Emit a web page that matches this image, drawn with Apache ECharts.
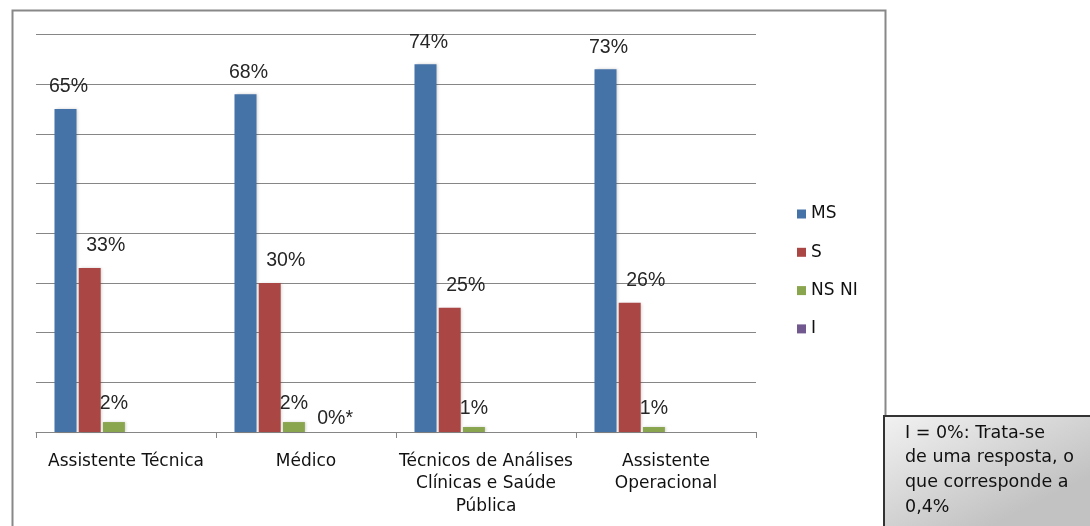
<!DOCTYPE html>
<html>
<head>
<meta charset="utf-8">
<script src="https://cdn.jsdelivr.net/npm/echarts@6/dist/echarts.min.js"></script>
<style>
html,body{margin:0;padding:0;background:#fff;}
#chart{width:1090px;height:526px;}
</style>
</head>
<body>
<div id="chart"></div>
<script>
// ---- data ----
const categories = ['Assistente Técnica', 'Médico', 'Técnicos de Análises\nClínicas e Saúde\nPública', 'Assistente\nOperacional'];
const seriesNames = ['MS', 'S', 'NS NI', 'I'];
const msValues = [0.65, 0.68, 0.74, 0.73];
const sValues = [0.33, 0.30, 0.25, 0.26];
const nsniValues = [0.02, 0.02, 0.01, 0.01];
const iValues = [0, 0, 0, 0];
const iLabels = ['', '0%*', '', ''];
const yTicks = [0, 0.1, 0.2, 0.3, 0.4, 0.5, 0.6, 0.7, 0.8];
const noteLines = ['I = 0%: Trata-se', 'de uma resposta, o', 'que corresponde a', '0,4%'];

const colors = ['#4572A7', '#AA4643', '#89A54E', '#71588F'];
const labelFont = { fontFamily: '"Liberation Sans", Arial, sans-serif', fontSize: 19.5, color: '#262626' };
const pct = p => Math.round(p.value * 100) + '%';

const barBase = {
  type: 'bar', barWidth: 22, barGap: '10%',
  itemStyle: { shadowColor: 'rgba(0,0,0,0.18)', shadowBlur: 3, shadowOffsetX: 1, shadowOffsetY: 0 }
};

const chart = echarts.init(document.getElementById('chart'));
chart.setOption({
  animation: false,
  color: colors,
  grid: { left: 36, right: 334, top: 34.5, bottom: 94, containLabel: false },
  legend: {
    data: seriesNames, orient: 'vertical', left: 792, top: 199,
    itemWidth: 9, itemHeight: 9, itemGap: 18.3, icon: 'rect',
    textStyle: { fontFamily: '"DejaVu Sans", sans-serif', fontSize: 17, color: '#111', lineHeight: 20 }
  },
  xAxis: {
    type: 'category', data: categories,
    axisLine: { lineStyle: { color: '#868686', width: 1 } },
    axisTick: { show: true, length: 6, lineStyle: { color: '#868686' } },
    axisLabel: { fontFamily: '"DejaVu Sans", sans-serif', fontSize: 17, color: '#111', lineHeight: 22.5, margin: 18, interval: 0 }
  },
  yAxis: {
    type: 'value', min: yTicks[0], max: yTicks[yTicks.length - 1], interval: 0.1,
    axisLabel: { show: false }, axisLine: { show: false }, axisTick: { show: false },
    splitLine: { lineStyle: { color: '#868686', width: 1 } }
  },
  series: [
    Object.assign({}, barBase, { name: seriesNames[0], data: msValues,
      label: Object.assign({ show: true, position: 'top', distance: 12, offset: [3, 0], formatter: pct }, labelFont) }),
    Object.assign({}, barBase, { name: seriesNames[1], data: sValues,
      label: Object.assign({ show: true, position: 'top', distance: 12, offset: [16, 0], formatter: pct }, labelFont) }),
    Object.assign({}, barBase, { name: seriesNames[2], data: nsniValues,
      label: Object.assign({ show: true, position: 'top', distance: 8, offset: [0, 0], formatter: pct }, labelFont) }),
    Object.assign({}, barBase, { name: seriesNames[3], data: iValues,
      label: Object.assign({ show: true, position: 'top', distance: 3, offset: [17, 0],
        formatter: p => iLabels[p.dataIndex] }, labelFont) }),
    { type: 'bar', name: 'spacer1', data: [], barWidth: 22, barGap: '10%', silent: true },
    { type: 'bar', name: 'spacer2', data: [], barWidth: 22, barGap: '10%', silent: true }
  ],
  graphic: [
    { type: 'rect', left: 10, top: 8, shape: { width: 873, height: 540 },
      style: { fill: 'none', stroke: '#888', lineWidth: 2 }, z: -1 },
    { type: 'rect', left: 883, top: 415, shape: { width: 220, height: 130 },
      style: { fill: new echarts.graphic.LinearGradient(0, 0, 0.3, 1, [
        { offset: 0, color: '#f2f2f2' }, { offset: 1, color: '#c2c2c2' }]),
        stroke: '#333', lineWidth: 2 }, z: 10 },
    { type: 'text', left: 905, top: 421, z: 11,
      style: { text: noteLines.join('\n'), font: '17.5px "DejaVu Sans", sans-serif', fill: '#111', lineHeight: 24.6 } }
  ]
});
</script>
</body>
</html>
